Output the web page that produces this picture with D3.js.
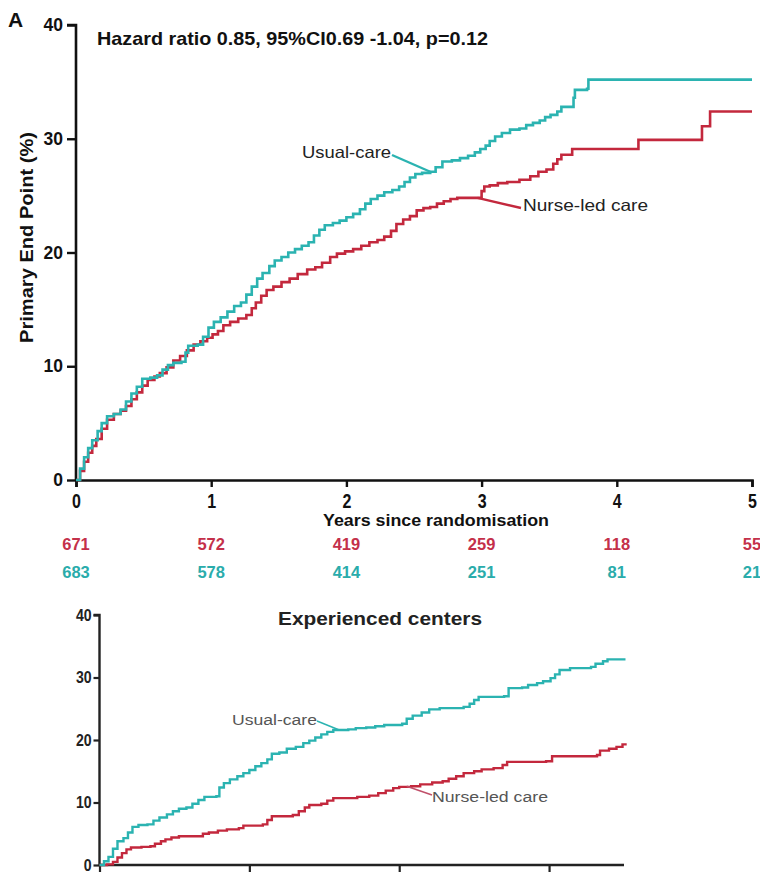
<!DOCTYPE html>
<html>
<head>
<meta charset="utf-8">
<script src="https://cdn.jsdelivr.net/npm/d3@7"></script>
<style>
  html, body { margin: 0; padding: 0; background: #fff; }
  svg { display: block; }
  text { font-family: "Liberation Sans", Arial, sans-serif; }
</style>
</head>
<body>
<svg id="chart" width="760" height="873"></svg>
<script>
// ---- Panel A: all centres, cumulative primary end point (%) by year ----
const usualCareAll = [
  [0,0],[0.03,1.0],[0.06,2.0],[0.09,2.8],[0.12,3.5],[0.16,4.3],[0.19,5.0],[0.23,5.6],
  [0.28,5.8],[0.33,6.2],[0.37,6.9],[0.41,7.6],[0.45,8.2],[0.49,8.9],[0.55,9.0],[0.60,9.2],
  [0.64,9.7],[0.68,10.1],[0.72,10.3],[0.78,10.4],[0.81,11.2],[0.83,11.8],[0.90,11.9],
  [0.94,12.6],[0.98,13.4],[1.02,13.9],[1.07,14.3],[1.12,14.8],[1.17,15.3],[1.22,15.6],
  [1.26,16.3],[1.30,17.0],[1.34,17.7],[1.38,18.2],[1.43,18.8],[1.47,19.3],[1.52,19.6],
  [1.57,20.0],[1.62,20.3],[1.67,20.6],[1.72,20.9],[1.76,21.5],[1.80,22.0],[1.84,22.4],
  [1.90,22.6],[1.95,22.8],[2.00,23.1],[2.05,23.4],[2.10,23.8],[2.14,24.3],[2.18,24.7],
  [2.23,25.0],[2.28,25.3],[2.34,25.5],[2.39,25.8],[2.43,26.2],[2.47,26.6],[2.51,26.9],
  [2.56,27.0],[2.62,27.1],[2.66,27.5],[2.71,28.0],[2.78,28.1],[2.84,28.3],[2.90,28.5],
  [2.95,28.8],[2.99,29.1],[3.03,29.4],[3.06,29.8],[3.10,30.2],[3.15,30.5],[3.21,30.8],
  [3.28,30.9],[3.33,31.2],[3.38,31.4],[3.43,31.6],[3.47,31.9],[3.51,32.1],[3.56,32.4],
  [3.59,32.8],[3.68,33.6],[3.69,34.3],[3.78,34.4],[3.79,35.2],[5.0,35.2]
];
const nurseLedAll = [
  [0,0],[0.03,0.8],[0.06,1.6],[0.09,2.4],[0.12,3.0],[0.15,3.6],[0.19,4.5],[0.23,5.3],
  [0.28,5.8],[0.33,6.1],[0.37,6.5],[0.41,7.1],[0.45,7.7],[0.49,8.3],[0.53,8.8],[0.58,9.1],
  [0.62,9.4],[0.67,9.9],[0.72,10.5],[0.77,10.9],[0.82,11.4],[0.87,11.9],[0.92,12.2],
  [0.97,12.5],[1.01,12.8],[1.05,13.1],[1.09,13.6],[1.14,13.9],[1.20,14.2],[1.26,14.5],
  [1.30,15.1],[1.33,15.6],[1.37,16.2],[1.41,16.7],[1.46,17.0],[1.52,17.4],[1.58,17.7],
  [1.64,18.1],[1.71,18.5],[1.77,18.7],[1.82,19.1],[1.88,19.6],[1.93,19.9],[1.99,20.1],
  [2.05,20.3],[2.11,20.6],[2.17,20.9],[2.23,21.1],[2.28,21.4],[2.33,21.9],[2.37,22.5],
  [2.42,22.9],[2.47,23.2],[2.52,23.7],[2.57,23.9],[2.62,24.0],[2.67,24.3],[2.72,24.5],
  [2.77,24.7],[2.82,24.8],[3.00,25.4],[3.02,25.8],[3.06,25.9],[3.12,26.1],[3.19,26.2],
  [3.28,26.4],[3.36,26.7],[3.42,27.1],[3.48,27.3],[3.53,27.8],[3.56,28.2],[3.59,28.6],
  [3.67,29.1],[4.16,29.9],[4.63,31.1],[4.69,32.4],[5.0,32.4]
];

// Numbers at risk at each year
const riskYears = [0, 1, 2, 3, 4, 5];
const riskNurseLed = [671, 572, 419, 259, 118, 55];
const riskUsualCare = [683, 578, 414, 251, 81, 21];

const mainYTicks = [0, 10, 20, 30, 40];
const mainXTicks = [0, 1, 2, 3, 4, 5];

// ---- Experienced centres ----
const usualCareExp = [
  [0,0],[0.03,0.6],[0.06,1.3],[0.09,2.6],[0.12,3.8],[0.16,4.3],[0.19,5.2],[0.22,6.1],
  [0.26,6.4],[0.32,6.5],[0.36,7.1],[0.40,7.6],[0.45,8.1],[0.49,8.6],[0.53,9.0],[0.58,9.2],
  [0.62,9.8],[0.66,10.4],[0.70,10.9],[0.78,11.0],[0.80,12.4],[0.83,13.1],[0.87,13.7],
  [0.92,14.2],[0.96,14.7],[1.00,15.2],[1.04,15.8],[1.08,16.3],[1.12,16.9],[1.15,17.8],
  [1.20,18.0],[1.25,18.6],[1.31,18.9],[1.36,19.5],[1.40,19.9],[1.44,20.4],[1.48,20.9],
  [1.52,21.3],[1.56,21.6],[1.66,21.7],[1.71,21.9],[1.78,22.0],[1.84,22.2],[1.90,22.4],
  [2.02,22.6],[2.05,23.4],[2.09,23.9],[2.15,24.4],[2.20,24.9],[2.27,25.1],[2.43,25.3],
  [2.47,25.8],[2.50,26.4],[2.53,26.9],[2.70,27.0],[2.73,28.3],[2.82,28.4],[2.86,28.8],
  [2.92,29.1],[2.96,29.4],[3.01,29.9],[3.04,30.5],[3.07,31.2],[3.14,31.5],[3.28,31.7],
  [3.31,32.2],[3.36,32.6],[3.39,32.9],[3.51,32.9]
];
const nurseLedExp = [
  [0,0],[0.05,0.1],[0.09,0.5],[0.12,1.2],[0.15,1.9],[0.18,2.5],[0.21,2.8],[0.28,2.9],
  [0.34,3.0],[0.37,3.4],[0.41,3.8],[0.44,4.1],[0.48,4.4],[0.53,4.6],[0.66,4.6],[0.69,5.0],
  [0.73,5.2],[0.79,5.5],[0.85,5.7],[0.93,5.9],[0.96,6.3],[1.09,6.5],[1.12,7.2],[1.15,7.8],
  [1.29,8.0],[1.33,8.6],[1.37,9.2],[1.40,9.6],[1.48,9.8],[1.52,10.3],[1.56,10.7],
  [1.72,10.9],[1.80,11.1],[1.86,11.5],[1.91,11.9],[1.96,12.3],[2.00,12.5],[2.08,12.6],
  [2.14,12.9],[2.22,13.2],[2.29,13.4],[2.33,13.8],[2.38,14.2],[2.43,14.7],[2.50,15.0],
  [2.55,15.3],[2.63,15.5],[2.69,16.0],[2.72,16.5],[2.98,16.6],[3.02,17.4],[3.32,17.6],
  [3.34,18.3],[3.40,18.6],[3.45,18.9],[3.49,19.3],[3.51,19.5]
];
const expYTicks = [0, 10, 20, 30, 40];
const expXTicks = [0, 1, 2, 3];

const TEAL = "#2bb3b1";
const RED = "#c3283d";
const RISK_RED = "#c4304a";
const RISK_TEAL = "#2aacab";

const svg = d3.select("#chart");

// fixed-width text helper: sets a target rendered width
function fitText(sel, w) {
  return sel.attr("textLength", w).attr("lengthAdjust", "spacingAndGlyphs");
}

// ================= Panel A =================
const x = d3.scaleLinear().domain([0, 5]).range([76, 752]);
const y = d3.scaleLinear().domain([0, 40]).range([480, 25]);

const gA = svg.append("g");

const yAxisA = gA.append("g")
  .attr("transform", `translate(${x(0)},0)`)
  .call(d3.axisLeft(y).tickValues(mainYTicks).tickSize(9).tickPadding(4));
const xAxisA = gA.append("g")
  .attr("transform", `translate(0,${y(0)})`)
  .call(d3.axisBottom(x).tickValues(mainXTicks).tickFormat(d3.format("d"))
    .tickSize(7).tickPadding(7));

[yAxisA, xAxisA].forEach(a => {
  a.select(".domain").attr("stroke", "#111").attr("stroke-width", 2.6);
  a.selectAll(".tick line").attr("stroke", "#111").attr("stroke-width", 2.4);
  a.selectAll(".tick text")
    .attr("fill", "#111")
    .style("font-weight", "bold")
    .style("font-size", "17.5px");
});
xAxisA.selectAll(".tick text").style("font-size", "19.5px").attr("transform", "scale(0.82,1)");
yAxisA.select(".domain").attr("d", `M-9,${y(40)}H0V${y(0)}`);

const lineA = d3.line().x(d => x(d[0])).y(d => y(d[1])).curve(d3.curveStepAfter);

gA.append("path").datum(nurseLedAll)
  .attr("d", lineA).attr("fill", "none").attr("stroke", RED).attr("stroke-width", 2.6);
gA.append("path").datum(usualCareAll)
  .attr("d", lineA).attr("fill", "none").attr("stroke", TEAL).attr("stroke-width", 2.6);

// Curve labels with leader lines
gA.append("line").attr("x1", 392).attr("y1", 155).attr("x2", x(2.62)).attr("y2", y(27.1))
  .attr("stroke", TEAL).attr("stroke-width", 2.4);
fitText(gA.append("text").attr("x", 302).attr("y", 158)
  .attr("fill", "#222").style("font-size", "16.5px").text("Usual-care"), 89);

gA.append("line").attr("x1", x(2.97)).attr("y1", y(24.8)).attr("x2", 521).attr("y2", 208)
  .attr("stroke", RED).attr("stroke-width", 2.4);
fitText(gA.append("text").attr("x", 523).attr("y", 211)
  .attr("fill", "#222").style("font-size", "16.5px").text("Nurse-led care"), 125);

gA.append("text").attr("x", 8).attr("y", 27)
  .attr("fill", "#111").style("font-weight", "bold").style("font-size", "21px").text("A");

fitText(gA.append("text").attr("x", 97).attr("y", 45)
  .attr("fill", "#111").style("font-weight", "bold").style("font-size", "19px")
  .text("Hazard ratio 0.85, 95%CI0.69 -1.04, p=0.12"), 391);

fitText(gA.append("text")
  .attr("transform", "translate(33,237.5) rotate(-90)")
  .attr("x", -105.5)
  .attr("fill", "#111").style("font-weight", "bold").style("font-size", "18px")
  .text("Primary End Point (%)"), 211);

fitText(gA.append("text").attr("x", 323).attr("y", 526)
  .attr("fill", "#111").style("font-weight", "bold").style("font-size", "17px")
  .text("Years since randomisation"), 226);

// Numbers-at-risk rows
const riskG = gA.append("g")
  .style("font-weight", "bold").style("font-size", "16.5px");
riskG.selectAll("text.nl").data(riskNurseLed).join("text")
  .attr("class", "nl")
  .attr("x", (d, i) => x(riskYears[i])).attr("y", 550).attr("text-anchor", "middle")
  .attr("fill", RISK_RED).text(d => d);
riskG.selectAll("text.uc").data(riskUsualCare).join("text")
  .attr("class", "uc")
  .attr("x", (d, i) => x(riskYears[i])).attr("y", 578).attr("text-anchor", "middle")
  .attr("fill", RISK_TEAL).text(d => d);

// ================= Experienced centres =================
const x2 = d3.scaleLinear().domain([0, 3.5]).range([99.5, 624]);
const y2 = d3.scaleLinear().domain([0, 40]).range([865, 615]);

const gB = svg.append("g");

const yAxisB = gB.append("g")
  .attr("transform", `translate(${x2(0)},0)`)
  .call(d3.axisLeft(y2).tickValues(expYTicks).tickSize(6).tickPadding(3));
const xAxisB = gB.append("g")
  .attr("transform", `translate(0,${y2(0)})`)
  .call(d3.axisBottom(x2).tickValues(expXTicks).tickSize(7).tickFormat(""));

[yAxisB, xAxisB].forEach(a => {
  a.select(".domain").attr("stroke", "#222").attr("stroke-width", 2.4);
  a.selectAll(".tick line").attr("stroke", "#222").attr("stroke-width", 2.2);
  a.selectAll(".tick text")
    .attr("fill", "#222")
    .style("font-weight", "bold")
    .style("font-size", "16px")
    .attr("transform", "scale(0.88,1)");
});
yAxisB.select(".domain").attr("d", `M-6,${y2(40)}H0V${y2(0)}`);
xAxisB.select(".domain").attr("d", `M${x2(0)},0H${x2(3.5)}`);

const lineB = d3.line().x(d => x2(d[0])).y(d => y2(d[1])).curve(d3.curveStepAfter);

gB.append("path").datum(nurseLedExp)
  .attr("d", lineB).attr("fill", "none").attr("stroke", RED).attr("stroke-width", 2.4);
gB.append("path").datum(usualCareExp)
  .attr("d", lineB).attr("fill", "none").attr("stroke", TEAL).attr("stroke-width", 2.4);

fitText(gB.append("text").attr("x", 278).attr("y", 625)
  .attr("fill", "#222").style("font-weight", "bold").style("font-size", "17.5px")
  .text("Experienced centers"), 204);

gB.append("line").attr("x1", 317).attr("y1", 721).attr("x2", x2(1.6)).attr("y2", y2(21.6))
  .attr("stroke", TEAL).attr("stroke-width", 1.5);
fitText(gB.append("text").attr("x", 232).attr("y", 725)
  .attr("fill", "#555").style("font-size", "15.5px").text("Usual-care"), 85);

gB.append("line").attr("x1", x2(2.05)).attr("y1", y2(12.6)).attr("x2", 432).attr("y2", 795)
  .attr("stroke", "#c0506a").attr("stroke-width", 1.5);
fitText(gB.append("text").attr("x", 432).attr("y", 802)
  .attr("fill", "#555").style("font-size", "15.5px").text("Nurse-led care"), 116);
</script>
</body>
</html>
